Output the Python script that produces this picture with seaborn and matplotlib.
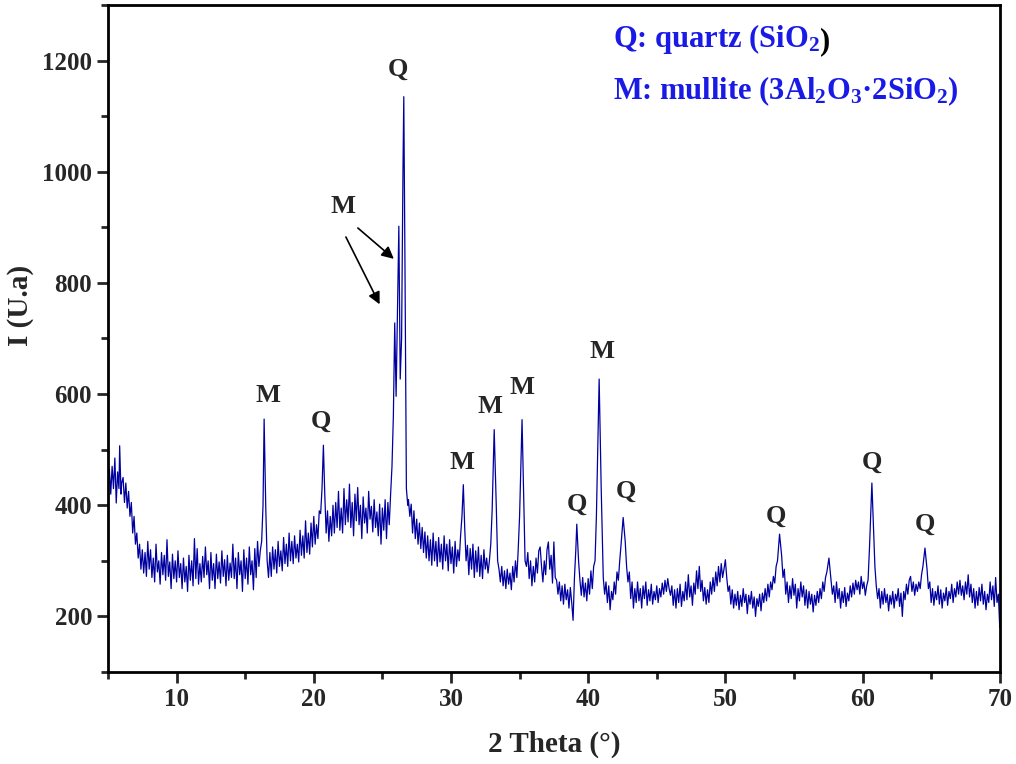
import pandas as pd
import seaborn as sns
import matplotlib.pyplot as plt

# XRD scan: (2 theta, intensity)
scan = [
    (5.0, 440), (5.1, 465), (5.2, 420), (5.3, 470), (5.4, 430), (5.5, 485), (5.6, 404), (5.7, 460), (5.8, 430), (5.85, 507), (5.95, 420),
    (6.0, 440), (6.1, 450), (6.2, 405), (6.3, 440), (6.4, 395), (6.5, 425), (6.6, 380), (6.7, 405), (6.8, 350), (6.9, 380), (7.0, 330),
    (7.1, 350), (7.2, 305), (7.3, 330), (7.4, 285), (7.5, 320), (7.6, 278), (7.7, 315), (7.8, 272), (7.9, 335), (8.0, 285),
    (8.1, 320), (8.2, 270), (8.3, 305), (8.4, 262), (8.5, 330), (8.6, 280), (8.7, 300), (8.8, 258), (8.9, 315), (9.0, 275),
    (9.1, 310), (9.2, 265), (9.3, 338), (9.4, 272), (9.5, 298), (9.6, 250), (9.7, 312), (9.8, 268), (9.9, 300), (10.0, 262),
    (10.1, 318), (10.2, 270), (10.3, 295), (10.4, 250), (10.5, 305), (10.6, 262), (10.7, 290), (10.8, 245), (10.9, 310), (11.0, 265),
    (11.1, 300), (11.2, 255), (11.3, 340), (11.4, 268), (11.5, 322), (11.6, 258), (11.7, 295), (11.8, 262), (11.9, 308), (12.0, 270),
    (12.1, 325), (12.2, 275), (12.3, 300), (12.4, 250), (12.5, 315), (12.6, 265), (12.7, 295), (12.8, 250), (12.9, 312), (13.0, 268),
    (13.1, 298), (13.2, 260), (13.3, 318), (13.4, 272), (13.5, 302), (13.6, 255), (13.7, 310), (13.8, 265), (13.9, 296), (14.0, 270),
    (14.1, 330), (14.2, 268), (14.3, 305), (14.4, 250), (14.5, 315), (14.6, 275), (14.7, 300), (14.8, 245), (14.9, 320), (15.0, 268),
    (15.1, 305), (15.2, 258), (15.3, 325), (15.4, 275), (15.5, 300), (15.6, 248), (15.7, 322), (15.8, 270), (15.9, 335), (16.0, 290),
    (16.1, 318), (16.2, 335), (16.3, 400), (16.38, 555), (16.5, 395), (16.6, 300), (16.7, 270), (16.8, 315), (16.9, 272), (17.0, 325),
    (17.1, 285), (17.2, 320), (17.3, 278), (17.4, 335), (17.5, 290), (17.6, 318), (17.7, 282), (17.8, 342), (17.9, 295), (18.0, 330),
    (18.1, 290), (18.2, 350), (18.3, 300), (18.4, 335), (18.5, 295), (18.6, 345), (18.7, 305), (18.8, 330), (18.9, 298), (19.0, 355),
    (19.1, 310), (19.2, 345), (19.3, 305), (19.4, 372), (19.5, 315), (19.6, 350), (19.7, 312), (19.8, 368), (19.9, 325), (20.0, 380),
    (20.1, 330), (20.2, 365), (20.3, 340), (20.4, 390), (20.5, 385), (20.6, 430), (20.7, 508), (20.8, 420), (20.9, 350), (21.0, 390),
    (21.1, 335), (21.2, 380), (21.3, 345), (21.4, 400), (21.5, 350), (21.6, 405), (21.7, 360), (21.8, 425), (21.9, 355), (22.0, 395),
    (22.1, 350), (22.2, 430), (22.3, 365), (22.4, 410), (22.5, 370), (22.6, 438), (22.7, 360), (22.8, 405), (22.9, 345), (23.0, 420),
    (23.1, 372), (23.2, 432), (23.3, 365), (23.4, 400), (23.5, 340), (23.6, 415), (23.7, 368), (23.8, 395), (23.9, 350), (24.0, 425),
    (24.1, 375), (24.2, 398), (24.3, 352), (24.4, 410), (24.5, 360), (24.6, 388), (24.7, 345), (24.8, 402), (24.9, 330), (25.0, 395),
    (25.1, 355), (25.2, 410), (25.3, 340), (25.4, 405), (25.5, 365), (25.6, 420), (25.7, 470), (25.8, 560), (25.9, 728), (26.0, 596),
    (26.1, 750), (26.2, 902), (26.3, 627), (26.4, 700), (26.5, 1000), (26.56, 1135), (26.65, 820), (26.75, 430), (26.85, 400), (26.9, 410),
    (27.0, 380), (27.1, 402), (27.2, 350), (27.3, 390), (27.4, 340), (27.5, 375), (27.6, 330), (27.7, 368), (27.8, 322), (27.9, 360),
    (28.0, 315), (28.1, 352), (28.2, 305), (28.3, 345), (28.4, 300), (28.5, 338), (28.6, 292), (28.7, 350), (28.8, 300), (28.9, 335),
    (29.0, 290), (29.1, 342), (29.2, 298), (29.3, 330), (29.4, 285), (29.5, 345), (29.6, 300), (29.7, 330), (29.8, 282), (29.9, 338),
    (30.0, 295), (30.1, 325), (30.2, 278), (30.3, 335), (30.4, 290), (30.5, 320), (30.6, 300), (30.7, 345), (30.8, 380), (30.9, 437),
    (31.0, 360), (31.1, 300), (31.2, 328), (31.3, 275), (31.4, 322), (31.5, 285), (31.6, 330), (31.7, 270), (31.8, 318), (31.9, 280),
    (32.0, 325), (32.1, 272), (32.2, 310), (32.3, 268), (32.4, 320), (32.5, 285), (32.6, 305), (32.7, 278), (32.8, 300), (32.9, 330),
    (33.0, 390), (33.15, 536), (33.3, 400), (33.4, 300), (33.5, 285), (33.6, 262), (33.7, 290), (33.8, 255), (33.9, 282), (34.0, 250),
    (34.1, 285), (34.2, 258), (34.3, 278), (34.4, 248), (34.5, 290), (34.6, 262), (34.7, 300), (34.8, 270), (34.9, 320), (35.0, 380),
    (35.18, 554), (35.3, 420), (35.4, 300), (35.5, 290), (35.6, 315), (35.7, 268), (35.8, 300), (35.9, 255), (36.0, 290), (36.1, 262),
    (36.2, 305), (36.3, 278), (36.4, 318), (36.5, 325), (36.6, 290), (36.7, 262), (36.8, 300), (36.9, 275), (37.0, 320), (37.1, 334),
    (37.2, 285), (37.3, 310), (37.4, 260), (37.5, 334), (37.6, 270), (37.7, 265), (37.8, 240), (37.9, 262), (38.0, 228), (38.1, 255),
    (38.2, 222), (38.3, 258), (38.4, 230), (38.5, 248), (38.6, 215), (38.7, 252), (38.8, 225), (38.9, 193), (39.0, 270), (39.1, 320),
    (39.17, 366), (39.3, 300), (39.4, 265), (39.5, 238), (39.6, 270), (39.7, 235), (39.8, 260), (39.9, 228), (40.0, 268), (40.1, 240),
    (40.2, 282), (40.3, 250), (40.4, 290), (40.5, 300), (40.6, 380), (40.8, 627), (40.95, 430), (41.1, 270), (41.2, 240), (41.3, 262),
    (41.4, 225), (41.5, 255), (41.6, 212), (41.7, 245), (41.8, 230), (41.9, 262), (42.0, 240), (42.1, 280), (42.2, 265), (42.3, 300),
    (42.4, 330), (42.55, 378), (42.7, 335), (42.8, 290), (42.9, 262), (43.0, 280), (43.1, 232), (43.2, 262), (43.3, 215), (43.4, 250),
    (43.5, 225), (43.6, 262), (43.7, 228), (43.8, 250), (43.9, 215), (44.0, 255), (44.1, 232), (44.2, 262), (44.3, 220), (44.4, 248),
    (44.5, 228), (44.6, 258), (44.7, 222), (44.8, 245), (44.9, 230), (45.0, 255), (45.1, 225), (45.2, 250), (45.3, 235), (45.4, 260),
    (45.5, 240), (45.6, 265), (45.7, 245), (45.8, 268), (45.9, 250), (46.0, 238), (46.1, 255), (46.2, 220), (46.3, 248), (46.4, 215),
    (46.5, 250), (46.6, 225), (46.7, 258), (46.8, 218), (46.9, 245), (47.0, 228), (47.1, 262), (47.2, 230), (47.3, 275), (47.4, 235),
    (47.5, 255), (47.6, 220), (47.7, 260), (47.8, 240), (47.9, 282), (48.0, 250), (48.1, 290), (48.2, 245), (48.3, 265), (48.4, 228),
    (48.5, 252), (48.6, 222), (48.7, 248), (48.8, 225), (48.9, 262), (49.0, 240), (49.1, 270), (49.2, 245), (49.3, 280), (49.4, 255),
    (49.5, 290), (49.6, 262), (49.7, 295), (49.8, 270), (49.9, 285), (50.0, 302), (50.1, 270), (50.2, 245), (50.3, 255), (50.4, 222),
    (50.5, 248), (50.6, 215), (50.7, 240), (50.8, 220), (50.9, 245), (51.0, 212), (51.1, 238), (51.2, 218), (51.3, 250), (51.4, 225),
    (51.5, 240), (51.6, 205), (51.7, 238), (51.8, 222), (51.9, 245), (52.0, 215), (52.1, 235), (52.2, 200), (52.3, 232), (52.4, 218),
    (52.5, 240), (52.6, 210), (52.7, 242), (52.8, 225), (52.9, 250), (53.0, 228), (53.1, 258), (53.2, 235), (53.3, 262), (53.4, 248),
    (53.5, 272), (53.6, 260), (53.7, 290), (53.8, 300), (53.95, 348), (54.1, 310), (54.2, 270), (54.3, 285), (54.4, 240), (54.5, 262),
    (54.6, 225), (54.7, 255), (54.8, 232), (54.9, 268), (55.0, 238), (55.1, 258), (55.2, 215), (55.3, 250), (55.4, 228), (55.5, 262),
    (55.6, 235), (55.7, 255), (55.8, 220), (55.9, 248), (56.0, 215), (56.1, 245), (56.2, 222), (56.3, 240), (56.4, 208), (56.5, 238),
    (56.6, 220), (56.7, 245), (56.8, 225), (56.9, 250), (57.0, 232), (57.1, 262), (57.2, 245), (57.3, 270), (57.4, 280), (57.55, 305),
    (57.7, 265), (57.8, 240), (57.9, 255), (58.0, 225), (58.1, 262), (58.2, 232), (58.3, 250), (58.4, 215), (58.5, 245), (58.6, 225),
    (58.7, 252), (58.8, 218), (58.9, 242), (59.0, 228), (59.1, 255), (59.2, 235), (59.3, 260), (59.4, 240), (59.5, 265), (59.6, 248),
    (59.7, 262), (59.8, 240), (59.9, 272), (60.0, 250), (60.1, 262), (60.2, 238), (60.3, 255), (60.4, 265), (60.5, 320), (60.68, 440),
    (60.8, 360), (60.9, 290), (61.0, 255), (61.1, 232), (61.2, 250), (61.3, 215), (61.4, 245), (61.5, 222), (61.6, 250), (61.7, 225),
    (61.8, 240), (61.9, 210), (62.0, 238), (62.1, 222), (62.2, 245), (62.3, 215), (62.4, 240), (62.5, 228), (62.6, 250), (62.7, 218),
    (62.8, 242), (62.9, 200), (63.0, 245), (63.1, 230), (63.2, 258), (63.3, 240), (63.4, 265), (63.5, 272), (63.6, 245), (63.7, 262),
    (63.8, 238), (63.9, 258), (64.0, 245), (64.1, 262), (64.2, 250), (64.3, 275), (64.4, 290), (64.55, 323), (64.7, 285), (64.8, 250),
    (64.9, 262), (65.0, 225), (65.1, 250), (65.2, 220), (65.3, 245), (65.4, 230), (65.5, 255), (65.6, 222), (65.7, 248), (65.8, 215),
    (65.9, 242), (66.0, 228), (66.1, 252), (66.2, 220), (66.3, 245), (66.4, 232), (66.5, 258), (66.6, 225), (66.7, 250), (66.8, 235),
    (66.9, 262), (67.0, 240), (67.1, 265), (67.2, 238), (67.3, 255), (67.4, 230), (67.5, 262), (67.6, 240), (67.7, 275), (67.8, 235),
    (67.9, 258), (68.0, 225), (68.1, 250), (68.2, 215), (68.3, 245), (68.4, 220), (68.5, 252), (68.6, 228), (68.7, 258), (68.8, 222),
    (68.9, 245), (69.0, 212), (69.1, 240), (69.2, 225), (69.3, 262), (69.4, 230), (69.5, 255), (69.6, 218), (69.7, 270), (69.8, 225),
    (69.9, 240), (70.0, 180),
]

# peak labels: text, 2 theta, height of label
peak_text = ['M', 'Q', 'Q', 'M', 'M', 'M', 'M', 'Q', 'M', 'Q', 'Q', 'Q', 'Q']
peak_x = [16.67, 20.56, 26.14, 22.10, 30.83, 32.81, 35.16, 39.19, 41.03, 42.79, 53.72, 60.69, 64.57]
peak_y = [598, 551, 1184, 938, 477, 578, 612, 402, 677, 426, 381, 477, 366]

df = pd.DataFrame(scan, columns=['theta', 'intensity'])

sns.set_style('ticks')
plt.rcParams['font.family'] = ['Liberation Serif', 'DejaVu Serif']
plt.rcParams['font.weight'] = 'bold'
plt.rcParams['mathtext.fontset'] = 'custom'
plt.rcParams['mathtext.rm'] = 'Liberation Serif:bold'
plt.rcParams['mathtext.default'] = 'rm'

fig = plt.figure(figsize=(10.16, 7.64), dpi=100)
ax = fig.add_axes([0.1063, 0.1204, 0.8777, 0.8731])

sns.lineplot(data=df, x='theta', y='intensity', ax=ax, color='#0000a0',
             lw=0.9, estimator=None, sort=False)

ax.set_xlim(5, 70)
ax.set_ylim(100, 1300)
ax.set_xticks([10, 20, 30, 40, 50, 60, 70])
ax.set_xticks([5, 15, 25, 35, 45, 55, 65], minor=True)
ax.set_yticks([200, 400, 600, 800, 1000, 1200])
ax.set_yticks([100, 300, 500, 700, 900, 1100, 1300], minor=True)
ax.tick_params(which='major', length=8, width=2, labelsize=18, direction='out')
ax.tick_params(which='minor', length=5, width=2, direction='out')
for s in ax.spines.values():
    s.set_linewidth(2)
    s.set_color('black')

ax.set_xlabel('2 Theta (°)', fontsize=21, fontweight='bold', labelpad=14)
ax.set_ylabel('I (U.a)', fontsize=21, fontweight='bold')
ax.yaxis.set_label_coords(-0.083, 0.55)

for t, x, y in zip(peak_text, peak_x, peak_y):
    ax.text(x, y, t, fontsize=19, fontweight='bold', ha='center', va='center')

# arrows pointing to the two mullite shoulders of the main quartz peak
ax.annotate('', xy=(25.99, 840), xytext=(23.06, 902),
            arrowprops=dict(arrowstyle='-|>', color='black', lw=1.2, mutation_scale=18))
ax.annotate('', xy=(24.89, 757), xytext=(22.25, 887),
            arrowprops=dict(arrowstyle='-|>', color='black', lw=1.2, mutation_scale=18))

blue = '#1a1ae6'
t1 = ax.text(0.566, 0.937, 'Q: quartz (SiO$_2$', transform=ax.transAxes, fontsize=22,
             fontweight='bold', color=blue, va='baseline')
ax.annotate(')', xy=(1, 0), xycoords=t1, fontsize=22, fontweight='bold',
            color='black', ha='left', va='bottom')
ax.text(0.566, 0.858, 'M: mullite (3Al$_2$O$_3$·2SiO$_2$)', transform=ax.transAxes,
        fontsize=22, fontweight='bold', color=blue, va='baseline')

fig.savefig('out.png', dpi=100)
